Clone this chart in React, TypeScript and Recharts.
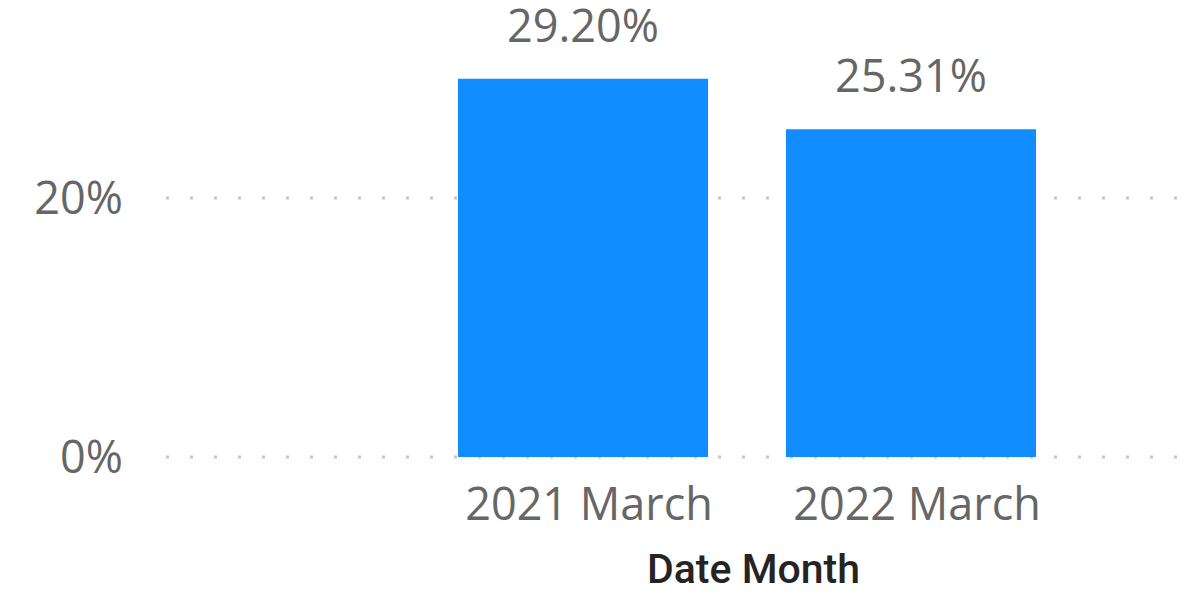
import { BarChart, Bar, XAxis, YAxis, CartesianGrid, LabelList, Label } from "recharts";

const months = ["2021 March", "2022 March"];
const shares = [0.292, 0.2531];
const yTicks = [0, 0.2];

const data = months.map((month, i) => ({ month, share: shares[i] }));

const pct = (v: number) => `${Math.round(v * 100)}%`;
const pct2 = (v: any) => `${(Number(v) * 100).toFixed(2)}%`;

const tickFont = { fontFamily: "'Open Sans', sans-serif", fontSize: 45, fill: "#666666" };

export default function App() {
  return (
    <div style={{ position: "absolute", left: 0, top: 0 }}>
      <BarChart
        width={1189}
        height={596}
        data={data}
        margin={{ top: 68.5, right: 12, bottom: 0, left: 0 }}
        barSize={250}
      >
        <CartesianGrid
          vertical={false}
          syncWithTicks
          stroke="#C8C8C8"
          strokeWidth={3}
          strokeDasharray="3 21"
        />
        <XAxis
          dataKey="month"
          axisLine={false}
          tickLine={false}
          tickSize={0}
          tickMargin={31}
          height={139}
          padding={{ left: 253, right: 102 }}
          tick={{ ...tickFont, dx: 6 }}
        >
          <Label
            value="Date Month"
            position="insideBottom"
            offset={13}
            dx={82}
            style={{ fontFamily: "Roboto, sans-serif", fontSize: 41, fontWeight: 500, fill: "#252423" }}
          />
        </XAxis>
        <YAxis
          width={166}
          domain={[0, 0.3]}
          ticks={yTicks}
          tickFormatter={pct}
          axisLine={false}
          tickLine={false}
          tickSize={0}
          tickMargin={43}
          tick={tickFont}
        />
        <Bar dataKey="share" fill="#118DFF" isAnimationActive={false}>
          <LabelList
            dataKey="share"
            position="top"
            offset={37}
            formatter={pct2}
            style={tickFont}
          />
        </Bar>
      </BarChart>
    </div>
  );
}
